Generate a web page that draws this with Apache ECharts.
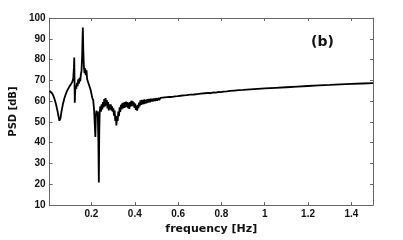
<!DOCTYPE html>
<html><head><meta charset="utf-8">
<script src="https://cdn.jsdelivr.net/npm/echarts@6/dist/echarts.min.js"></script>
<style>html,body{margin:0;padding:0;background:#fff}#c{width:403px;height:240px}</style>
</head><body><div id="c"></div>
<script>
var freq = [0.0066,0.012,0.018,0.024,0.030,0.036,0.042,0.048,0.052,0.054,0.057,0.062,0.068,0.075,0.082,0.090,0.098,0.106,0.112,0.116,0.119,0.1205,0.1215,0.123,0.1245,0.127,0.130,0.133,0.136,0.139,0.142,0.145,0.148,0.151,0.154,0.157,0.160,0.1625,0.165,0.168,0.171,0.174,0.177,0.180,0.184,0.188,0.192,0.196,0.200,0.204,0.208,0.212,0.215,0.218,0.220,0.223,0.226,0.229,0.232,0.234,0.236,0.238,0.241,0.244,0.247,0.250,0.253,0.256,0.259,0.262,0.265,0.268,0.271,0.274,0.277,0.280,0.283,0.286,0.289,0.292,0.295,0.298,
0.301,0.304,0.307,0.310,0.313,0.315,0.318,0.321,0.324,0.327,0.330,0.333,0.336,0.339,0.342,0.345,0.348,0.351,0.354,0.357,0.360,0.363,0.366,0.369,0.372,0.375,0.378,0.381,0.384,0.387,0.390,0.393,0.396,0.399,0.402,0.405,0.408,0.411,0.414,0.417,0.420,0.423,0.426,0.429,0.432,0.435,0.438,0.441,0.444,0.447,0.450,0.454,0.458,0.462,0.466,0.470,0.474,0.478,0.482,0.486,0.490,0.494,0.498,0.503,0.508,0.513,0.518,0.523,0.528,0.533,0.538,0.544,0.550,0.556,0.562,0.568,0.574,0.580,0.586,0.592,0.598,0.605,0.612,0.619,0.626,0.633,0.640,0.648,0.656,0.664,0.672,0.680,0.688,0.696,0.705,0.714,0.723,0.732,0.742,0.752,0.762,0.773,0.785,0.797,0.810,0.825,0.840,0.860,0.880,0.900,0.950,1.000,1.050,1.100,1.150,1.200,1.250,1.300,1.350,1.400,1.450,1.500];
var psd = [65.0,64.6,63.8,62.6,60.8,58.6,55.8,52.6,50.6,50.2,51.8,55.2,58.5,61.4,63.6,65.5,67.0,68.3,69.4,71.0,76.0,81.0,72.0,59.2,64.0,67.5,66.0,68.8,67.2,70.5,68.4,71.2,69.5,72.8,74.5,82.0,95.4,84.0,76.5,73.5,75.8,72.5,74.8,70.5,71.0,68.0,68.5,65.5,65.0,61.5,60.5,56.0,55.5,42.8,52.0,55.5,53.0,55.0,40.0,20.9,45.0,55.0,57.5,55.0,58.5,56.0,59.5,57.0,61.0,57.5,61.5,58.0,60.5,56.5,59.5,55.5,58.5,56.0,58.5,55.5,57.5,55.0,
56.5,53.0,55.5,50.5,53.0,48.3,52.5,50.5,55.0,52.8,57.0,54.8,58.2,56.0,59.0,56.5,59.3,56.8,59.6,57.0,59.8,57.2,59.5,56.6,59.2,56.3,59.6,57.4,60.2,57.8,60.0,57.5,59.4,56.8,58.8,55.8,57.9,55.4,58.2,56.6,59.3,57.6,60.4,58.2,60.6,58.4,60.5,58.6,60.8,58.8,60.6,59.0,61.0,59.3,61.1,59.5,61.2,59.8,61.2,59.9,61.3,60.1,61.4,60.3,61.5,60.5,61.6,60.7,61.7,60.9,61.8,61.1,61.9,61.3,62.0,61.5,62.1,61.6,62.3,61.8,62.4,62.0,62.6,62.2,62.8,62.4,62.9,62.6,63.1,62.8,63.2,63.0,63.4,63.2,63.6,63.4,63.8,63.6,64.0,63.8,64.2,64.1,64.4,64.3,64.6,64.7,64.9,65.1,65.3,65.4,65.8,66.1,66.4,66.7,67.0,67.3,67.6,67.8,68.1,68.3,68.5,68.7];
var xTicks = [0.2,0.4,0.6,0.8,1,1.2,1.4];
var yTicks = [10,20,30,40,50,60,70,80,90,100];
var panelLabel = '(b)';

var data = freq.map(function(f,i){return [f, psd[i]];});
var chart = echarts.init(document.getElementById('c'), null, {renderer:'canvas'});
var axColor = '#666';
var FF = 'DejaVu Sans, sans-serif';
var lblFont = {fontFamily:'Liberation Sans, Arial, sans-serif', fontWeight:'bold', fontSize:10, color:'#111'};
chart.setOption({
  animation:false,
  backgroundColor:'#fff',
  grid:{left:49, top:18, right:30, bottom:30, containLabel:false},
  xAxis:[{
    type:'value', min:0.0066, max:1.5, position:'bottom',
    name:'frequency [Hz]', nameLocation:'middle', nameGap:13,
    nameTextStyle:{fontFamily:FF, fontWeight:'bold', fontSize:11, color:'#111'},
    axisLine:{show:true, onZero:false, lineStyle:{color:axColor, width:1}},
    axisTick:{show:true, inside:true, length:3, customValues:xTicks, lineStyle:{color:axColor}},
    axisLabel:Object.assign({margin:4, customValues:xTicks, formatter:function(v){return String(v);}}, lblFont),
    splitLine:{show:false}
  },{
    type:'value', min:0.0066, max:1.5, position:'top',
    axisLine:{show:true, onZero:false, lineStyle:{color:axColor, width:1}},
    axisTick:{show:true, inside:true, length:3, customValues:xTicks, lineStyle:{color:axColor}},
    axisLabel:{show:false}, splitLine:{show:false}
  }],
  yAxis:[{
    type:'value', min:10, max:100, interval:10, position:'left',
    name:'PSD [dB]', nameLocation:'middle', nameGap:23, nameRotate:90,
    nameTextStyle:{fontFamily:FF, fontWeight:'bold', fontSize:10, color:'#111'},
    axisLine:{show:true, onZero:false, lineStyle:{color:axColor, width:1}},
    axisTick:{show:true, inside:true, length:3, lineStyle:{color:axColor}},
    axisLabel:Object.assign({margin:4, customValues:yTicks}, lblFont),
    splitLine:{show:false}
  },{
    type:'value', min:10, max:100, interval:10, position:'right',
    axisLine:{show:true, onZero:false, lineStyle:{color:axColor, width:1}},
    axisTick:{show:true, inside:true, length:3, lineStyle:{color:axColor}},
    axisLabel:{show:false}, splitLine:{show:false}
  }],
  graphic:[{
    type:'text', left:311, top:35,
    style:{text:panelLabel, font:'bold 14px DejaVu Sans, sans-serif', fill:'#111'}
  }],
  series:[{
    type:'line', data:data, showSymbol:false, symbol:'none',
    lineStyle:{color:'#000', width:1.8}, clip:true
  }]
});
</script></body></html>
